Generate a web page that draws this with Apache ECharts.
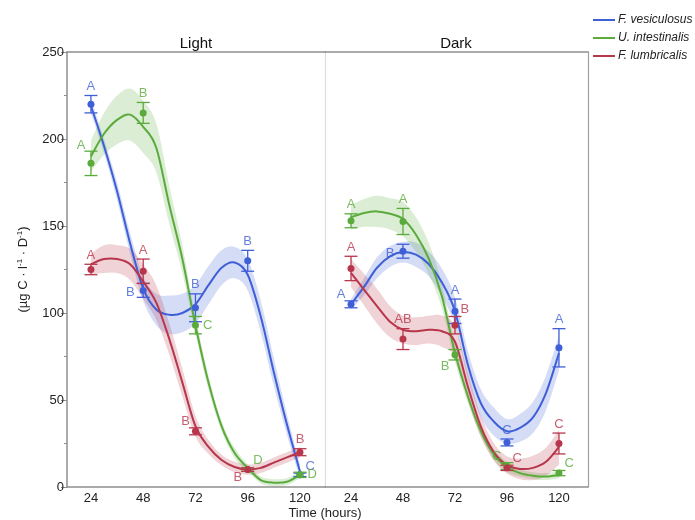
<!DOCTYPE html>
<html><head><meta charset="utf-8">
<script src="https://cdn.jsdelivr.net/npm/echarts@6/dist/echarts.min.js"></script>
<style>html,body{margin:0;padding:0;background:#fff}#c{width:695px;height:520px}</style>
</head><body><div id="c"></div><script>
// ---------- DATA ----------
const times = [24, 48, 72, 96, 120];
const fitTimes = [24,30,36,42,48,54,60,66,72,78,84,90,96,102,108,114,120];
const speciesNames = ['F. vesiculosus', 'U. intestinalis', 'F. lumbricalis'];
const panelNames = ['Light', 'Dark'];

// Light: measured means and errors
const lightFves = [220, 113, 103, 130, 7];
const lightFvesErr = [5, 4, 8, 6, 1];
const lightUint = [186, 215, 93, 10, 7];
const lightUintErr = [7, 6, 5, 1, 1.5];
const lightFlum = [125, 124, 32, 10, 20];
const lightFlumErr = [3, 7, 2, 1, 2];
// Dark: measured means and errors
const darkFves = [105, 135.5, 101, 25.6, 80];
const darkFvesErr = [2, 4, 7, 2, 11];
const darkUint = [153, 152.6, 76, 12, 8];
const darkUintErr = [4, 7.5, 3, 2, 1.5];
const darkFlum = [125.6, 85, 93, 11, 25];
const darkFlumErr = [7, 6, 5, 1.5, 6];

// Fitted curves and confidence half-widths
const lightFvesFit = [219,196,170,140,114,102,99,100,105,116,126,129,122,98,66,36,9];
const lightFvesBand = [4,4,5,6,7,9,11,11,11,11,10,9,9,9,8,6,4];
const lightUintFit = [190,203,211,214,207,195,162,131,93,60,35,19.5,11,4,2.5,3,7];
const lightUintBand = [9,12,14,15,15,14,11,8,5,4,3,3,2,2,2,2,2];
const lightFlumFit = [128,131,131,128,118,106,85,60,35,23,15.5,11.5,10,11,14,17,20];
const lightFlumBand = [6,8,8,9,10,10,9,8,6,4,3,3,3,3,3,3,3];
const darkFvesFit = [105,115,126,132.5,135,133.5,128,117.5,101,70,48,37.5,32,34,40,54,77];
const darkFvesBand = [3,5,6,6,6,7,7,8,8,8,8,8,7,8,9,10,10];
const darkUintFit = [155,157.5,158.4,157,154,145,131,109.5,77,52,32,18.5,11.5,8,6.5,6,7];
const darkUintBand = [7,8,9,9,10,10,9,7,5,4,3,3,3,2,2,2,2];
const darkFlumFit = [123,113.5,104,95,90.4,89.5,90.4,89.5,83.5,57.6,34.6,20,12.7,10.4,11,14.5,23];
const darkFlumBand = [8,9,10,9,8,8,8,9,9,8,6,5,5,6,7,8,10];

// Significance letters
const lightFvesLetters = ['A','B','B','B','C'];
const lightUintLetters = ['A','B','C','D','D'];
const lightFlumLetters = ['A','A','B','B','B'];
const darkFvesLetters = ['A','B','A','C','A'];
const darkUintLetters = ['A','A','B','C','C'];
const darkFlumLetters = ['A','AB','B','C','C'];
// Letter placement (styling)
const lightFvesPos = ['top','left','top','top','topright'];
const lightUintPos = ['topleft','top','right','topright','right'];
const lightFlumPos = ['top','top','topleft','bottomleft','top'];
const darkFvesPos = ['topleft','left','top','top','top'];
const darkUintPos = ['top','top','bottomleft','topleft','topright'];
const darkFlumPos = ['top','top','topright','topright','top'];

// ---------- STYLE ----------
const colors = ['#3f5fd7', '#5aab3c', '#b8364b'];
const FONT = 'Liberation Sans, Arial, Helvetica, sans-serif';

const panels = [
  { means:[lightFves,lightUint,lightFlum], errs:[lightFvesErr,lightUintErr,lightFlumErr],
    fits:[lightFvesFit,lightUintFit,lightFlumFit], bands:[lightFvesBand,lightUintBand,lightFlumBand],
    letters:[lightFvesLetters,lightUintLetters,lightFlumLetters], pos:[lightFvesPos,lightUintPos,lightFlumPos] },
  { means:[darkFves,darkUint,darkFlum], errs:[darkFvesErr,darkUintErr,darkFlumErr],
    fits:[darkFvesFit,darkUintFit,darkFlumFit], bands:[darkFvesBand,darkUintBand,darkFlumBand],
    letters:[darkFvesLetters,darkUintLetters,darkFlumLetters], pos:[darkFvesPos,darkUintPos,darkFlumPos] }
];

function labelItem(t, y, e, letter, pos) {
  let anchorY = y, position = 'top', offset = [0, 0], dist = 3;
  switch (pos) {
    case 'top': anchorY = y + e; position = 'top'; dist = 2; break;
    case 'left': position = 'left'; dist = 8; offset = [0, 2]; break;
    case 'right': position = 'right'; dist = 7; break;
    case 'topleft': anchorY = y + e; position = 'left'; dist = 5; offset = [0, -6]; break;
    case 'topright': anchorY = y + e; position = 'right'; dist = 5; offset = [0, -7]; break;
    case 'bottomleft': anchorY = y - e; position = 'left'; dist = 5; offset = [0, 6]; break;
  }
  return { name: letter, value: [t, anchorY], label: { position: position, distance: dist, offset: offset } };
}

// Catmull-Rom spline through pixel points -> bezier path commands
function splineCmds(pts, start) {
  let d = start ? ('M' + pts[0][0] + ' ' + pts[0][1]) : ('L' + pts[0][0] + ' ' + pts[0][1]);
  const k = 1 / 6;
  for (let i = 0; i < pts.length - 1; i++) {
    const p0 = pts[Math.max(0, i - 1)], p1 = pts[i], p2 = pts[i + 1], p3 = pts[Math.min(pts.length - 1, i + 2)];
    const c1x = p1[0] + (p2[0] - p0[0]) * k, c1y = p1[1] + (p2[1] - p0[1]) * k;
    const c2x = p2[0] - (p3[0] - p1[0]) * k, c2y = p2[1] - (p3[1] - p1[1]) * k;
    d += 'C' + c1x + ' ' + c1y + ' ' + c2x + ' ' + c2y + ' ' + p2[0] + ' ' + p2[1];
  }
  return d;
}

const series = [];
panels.forEach((p, pi) => {
  for (let s = 0; s < 3; s++) {
    const col = colors[s];
    const n = fitTimes.length;
    // confidence band
    series.push({
      type: 'custom', xAxisIndex: pi, yAxisIndex: pi, silent: true, z: 1,
      data: fitTimes.map((t, i) => [t, p.fits[s][i] - p.bands[s][i], p.fits[s][i] + p.bands[s][i]]),
      encode: { x: 0, y: [1, 2] },
      renderItem: function (params, api) {
        if (params.dataIndex !== 0) return null;
        const up = [], lo = [];
        for (let j = 0; j < n; j++) {
          const x = api.value(0, j);
          up.push(api.coord([x, api.value(2, j)]));
          lo.push(api.coord([x, api.value(1, j)]));
        }
        const d = splineCmds(up, true) + splineCmds(lo.reverse(), false) + 'Z';
        return { type: 'path', shape: { pathData: d }, style: { fill: col, opacity: 0.22 } };
      }
    });
    // fitted curve
    series.push({
      name: speciesNames[s], type: 'custom', xAxisIndex: pi, yAxisIndex: pi, silent: true, z: 3,
      data: fitTimes.map((t, i) => [t, p.fits[s][i]]),
      encode: { x: 0, y: 1 },
      itemStyle: { color: col },
      renderItem: function (params, api) {
        if (params.dataIndex !== 0) return null;
        const pts = [];
        for (let j = 0; j < n; j++) pts.push(api.coord([api.value(0, j), api.value(1, j)]));
        return { type: 'path', shape: { pathData: splineCmds(pts, true) }, style: { fill: 'none', stroke: col, lineWidth: 2 } };
      }
    });
    // error bars
    series.push({
      type: 'custom', xAxisIndex: pi, yAxisIndex: pi, silent: true, z: 4,
      data: times.map((t, i) => [t, p.means[s][i], p.errs[s][i]]),
      encode: { x: 0, y: 1 },
      renderItem: function (params, api) {
        const x = api.value(0), y = api.value(1), e = api.value(2);
        const hi = api.coord([x, y + e]), lo = api.coord([x, y - e]);
        const w = 6.5;
        const st = { stroke: col, lineWidth: 1.3 };
        return { type: 'group', children: [
          { type: 'line', shape: { x1: hi[0], y1: hi[1], x2: lo[0], y2: lo[1] }, style: st },
          { type: 'line', shape: { x1: hi[0] - w, y1: hi[1], x2: hi[0] + w, y2: hi[1] }, style: st },
          { type: 'line', shape: { x1: lo[0] - w, y1: lo[1], x2: lo[0] + w, y2: lo[1] }, style: st }
        ]};
      }
    });
    // mean points
    series.push({
      type: 'scatter', xAxisIndex: pi, yAxisIndex: pi, silent: true, z: 5,
      data: times.map((t, i) => [t, p.means[s][i]]),
      symbolSize: 7, itemStyle: { color: col, opacity: 1 }
    });
    // letters
    series.push({
      type: 'scatter', xAxisIndex: pi, yAxisIndex: pi, silent: true, z: 6,
      data: times.map((t, i) => labelItem(t, p.means[s][i], p.errs[s][i], p.letters[s][i], p.pos[s][i])),
      symbolSize: 1, itemStyle: { color: 'rgba(0,0,0,0)' },
      label: { show: true, formatter: '{b}', color: col, fontSize: 13, fontFamily: FONT }
    });
  }
});

const axisGray = '#8e8e8e';
const xRanges = [[13, 131.5], [12, 133.4]];
function bottomX(g) {
  return { gridIndex: g, type: 'value', min: xRanges[g][0], max: xRanges[g][1], position: 'bottom',
    axisLine: { show: true, onZero: false, lineStyle: { color: axisGray, width: 1.5 } },
    axisTick: { show: false },
    axisLabel: { customValues: times, fontSize: 13, color: '#222', margin: 5 },
    splitLine: { show: false } };
}
function topX(g) {
  return { gridIndex: g, type: 'value', min: xRanges[g][0], max: xRanges[g][1], position: 'top',
    axisLine: { show: true, onZero: false, lineStyle: { color: axisGray, width: 1.5 } },
    axisTick: { show: false }, axisLabel: { show: false }, splitLine: { show: false } };
}
const option = {
  backgroundColor: '#fff',
  animation: false,
  textStyle: { fontFamily: FONT },
  grid: [
    { left: 67, top: 52, width: 258, height: 435 },
    { left: 325, top: 52, width: 263, height: 435 }
  ],
  xAxis: [bottomX(0), bottomX(1), topX(0), topX(1)],
  yAxis: [
    { gridIndex: 0, type: 'value', min: 0, max: 250, interval: 50, position: 'left',
      axisLine: { show: true, onZero: false, lineStyle: { color: axisGray, width: 1.5 } },
      axisTick: { show: true, length: 6, lineStyle: { color: axisGray } },
      minorTick: { show: true, splitNumber: 2, length: 3, lineStyle: { color: axisGray } },
      axisLabel: { fontSize: 13, color: '#222', margin: 3 },
      splitLine: { show: false },
      name: '(µg C · l{s|-1} · D{s|-1})', nameLocation: 'middle', nameGap: 36,
      nameTextStyle: { fontSize: 13, color: '#222', rich: { s: { fontSize: 8, padding: [0, 0, 7, 0], color: '#222' } } } },
    { gridIndex: 1, type: 'value', min: 0, max: 250, interval: 50, position: 'left',
      axisLine: { show: true, onZero: false, lineStyle: { color: '#dcdcdc', width: 1.2 } },
      axisTick: { show: false }, axisLabel: { show: false }, splitLine: { show: false } },
    { gridIndex: 1, type: 'value', min: 0, max: 250, interval: 50, position: 'right',
      axisLine: { show: true, onZero: false, lineStyle: { color: '#a0a0a0', width: 1.2 } },
      axisTick: { show: false }, axisLabel: { show: false }, splitLine: { show: false } }
  ],
  legend: {
    data: speciesNames, orient: 'vertical', left: 588, top: 9,
    icon: 'rect', itemWidth: 22, itemHeight: 2, itemGap: 6,
    textStyle: { fontSize: 12, fontStyle: 'italic', color: '#222', fontFamily: FONT, padding: [0, 0, 0, -2] }
  },
  graphic: [
    { type: 'text', x: 196, y: 44, style: { text: panelNames[0], font: '15px ' + FONT, fill: '#111', align: 'center', verticalAlign: 'middle', textAlign: 'center', textVerticalAlign: 'middle' } },
    { type: 'text', x: 456, y: 44, style: { text: panelNames[1], font: '15px ' + FONT, fill: '#111', align: 'center', verticalAlign: 'middle', textAlign: 'center', textVerticalAlign: 'middle' } },
    { type: 'text', x: 325, y: 513, style: { text: 'Time (hours)', font: '13px ' + FONT, fill: '#222', align: 'center', verticalAlign: 'middle', textAlign: 'center', textVerticalAlign: 'middle' } }
  ],
  series: series
};
const chart = echarts.init(document.getElementById('c'), null, { renderer: 'canvas' });
chart.setOption(option);
</script></body></html>
